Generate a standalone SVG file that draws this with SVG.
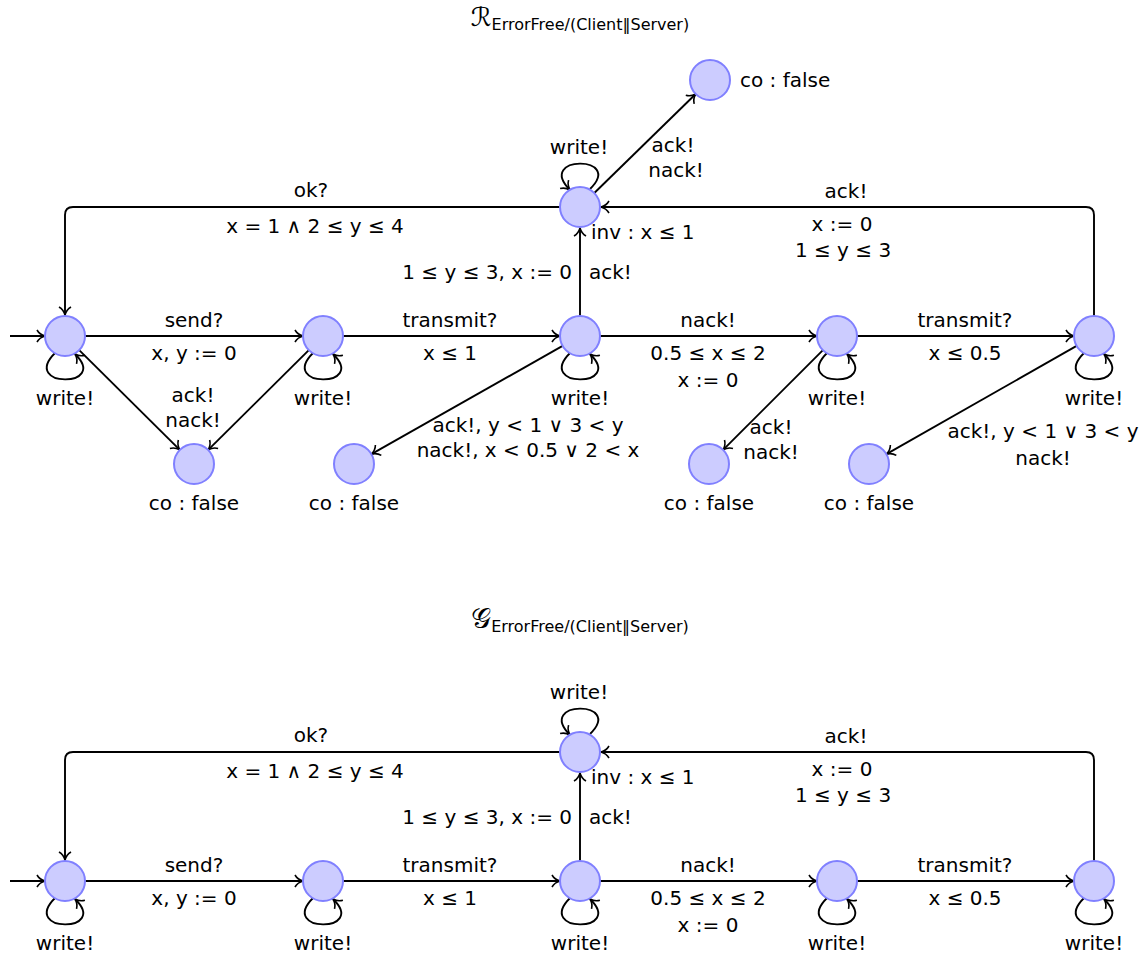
<svg xmlns="http://www.w3.org/2000/svg" width="1145" height="954" viewBox="0 0 1145 954">
<defs>
<style>
.n{fill:#ccccff;stroke:#8080ff;stroke-width:2}
.e{fill:none;stroke:#000;stroke-width:1.9;marker-end:url(#ar)}
.t{font-family:"DejaVu Sans",sans-serif;font-size:20px;fill:#000}
.m{text-anchor:middle}
.en{text-anchor:end}
.ti{font-family:"DejaVu Sans",sans-serif;fill:#000;text-anchor:middle}
</style>
<marker id="ar" markerWidth="16" markerHeight="16" refX="0" refY="0" viewBox="-10 -8 12 16" orient="auto" markerUnits="userSpaceOnUse">
<path d="M-8,-6 C-6,-2.5 -2.5,-0.7 0,0 C-2.5,0.7 -6,2.5 -8,6" fill="none" stroke="#000" stroke-width="1.6"/>
</marker>
</defs>
<rect width="1145" height="954" fill="#fff"/>

<!-- ===== Top automaton ===== -->
<text class="ti" x="580" y="26"><tspan font-size="26" font-family="DejaVu Sans, serif">ℛ</tspan><tspan font-size="16" dy="4">ErrorFree/(Client‖Server)</tspan></text>

<g id="top-edges">
<path class="e" d="M10,336 L45,336"/>
<path class="e" d="M85,336 L303,336"/>
<path class="e" d="M343,336 L560,336"/>
<path class="e" d="M600,336 L817,336"/>
<path class="e" d="M857,336 L1074,336"/>
<path class="e" d="M580,316 L580,228"/>
<path class="e" d="M1094,316 L1094,215 Q1094,207 1086,207 L601,207"/>
<path class="e" d="M560,207 L73,207 Q65,207 65,215 L65,315"/>
<path class="e" d="M594.3,193 L695.7,94"/>
<path class="e" d="M79.2,350.1 L179.8,449.9"/>
<path class="e" d="M308.8,350.1 L208.2,449.9"/>
<path class="e" d="M562.6,345.9 L371.4,454.1"/>
<path class="e" d="M822.9,350.1 L723.1,449.9"/>
<path class="e" d="M1076.6,345.9 L886.4,454.1"/>
<!-- self loops -->
<path class="e" d="M590,189 C625,155 535,155 570,190"/>
<path class="e" d="M55,353 C20,388 110,388 75,354"/>
<path class="e" d="M313,353 C278,388 368,388 333,354"/>
<path class="e" d="M570,353 C535,388 625,388 590,354"/>
<path class="e" d="M827,353 C792,388 882,388 847,354"/>
<path class="e" d="M1084,353 C1049,388 1139,388 1104,354"/>
</g>

<g id="top-labels">
<text class="t m" x="311" y="197">ok?</text>
<text class="t m" x="315" y="233">x = 1 ∧ 2 ≤ y ≤ 4</text>
<text class="t m" x="846" y="198">ack!</text>
<text class="t m" x="842" y="231">x := 0</text>
<text class="t m" x="843" y="257">1 ≤ y ≤ 3</text>
<text class="t m" x="579" y="154">write!</text>
<text class="t m" x="673" y="152">ack!</text>
<text class="t m" x="676" y="177">nack!</text>
<text class="t en" x="572" y="279">1 ≤ y ≤ 3, x := 0</text>
<text class="t" x="589" y="279">ack!</text>
<text class="t m" x="194" y="327">send?</text>
<text class="t m" x="194" y="360">x, y := 0</text>
<text class="t m" x="450" y="327">transmit?</text>
<text class="t m" x="450" y="360">x ≤ 1</text>
<text class="t m" x="708" y="327">nack!</text>
<text class="t m" x="708" y="360">0.5 ≤ x ≤ 2</text>
<text class="t m" x="708" y="387">x := 0</text>
<text class="t m" x="965" y="327">transmit?</text>
<text class="t m" x="965" y="360">x ≤ 0.5</text>
<text class="t m" x="65" y="405">write!</text>
<text class="t m" x="323" y="405">write!</text>
<text class="t m" x="580" y="405">write!</text>
<text class="t m" x="837" y="405">write!</text>
<text class="t m" x="1094" y="405">write!</text>
<text class="t m" x="193" y="402">ack!</text>
<text class="t m" x="193" y="427">nack!</text>
<text class="t m" x="528" y="432">ack!, y &lt; 1 ∨ 3 &lt; y</text>
<text class="t m" x="528" y="457">nack!, x &lt; 0.5 ∨ 2 &lt; x</text>
<text class="t m" x="771" y="434">ack!</text>
<text class="t m" x="771" y="459">nack!</text>
<text class="t m" x="1043" y="438">ack!, y &lt; 1 ∨ 3 &lt; y</text>
<text class="t m" x="1043" y="465">nack!</text>
</g>

<g id="t-A"><circle class="n" cx="65" cy="336" r="20"/></g>
<g id="t-B"><circle class="n" cx="323" cy="336" r="20"/></g>
<g id="t-C"><circle class="n" cx="580" cy="336" r="20"/></g>
<g id="t-D"><circle class="n" cx="837" cy="336" r="20"/></g>
<g id="t-E"><circle class="n" cx="1094" cy="336" r="20"/></g>
<g id="t-T"><circle class="n" cx="580" cy="207" r="20"/><text class="t" x="591" y="239">inv : x ≤ 1</text></g>
<g id="t-co0"><circle class="n" cx="710" cy="80" r="20"/><text class="t" x="740" y="87">co : false</text></g>
<g id="t-co1"><circle class="n" cx="194" cy="464" r="20"/><text class="t m" x="194" y="510">co : false</text></g>
<g id="t-co2"><circle class="n" cx="354" cy="464" r="20"/><text class="t m" x="354" y="510">co : false</text></g>
<g id="t-co3"><circle class="n" cx="709" cy="464" r="20"/><text class="t m" x="709" y="510">co : false</text></g>
<g id="t-co4"><circle class="n" cx="869" cy="464" r="20"/><text class="t m" x="869" y="510">co : false</text></g>

<!-- ===== Bottom automaton ===== -->
<text class="ti" x="580" y="628"><tspan font-size="28" font-family="DejaVu Sans, serif">𝒢</tspan><tspan font-size="16" dy="4">ErrorFree/(Client‖Server)</tspan></text>

<g id="bottom-edges">
<path class="e" d="M10,881 L45,881"/>
<path class="e" d="M85,881 L303,881"/>
<path class="e" d="M343,881 L560,881"/>
<path class="e" d="M600,881 L817,881"/>
<path class="e" d="M857,881 L1074,881"/>
<path class="e" d="M580,861 L580,773"/>
<path class="e" d="M1094,861 L1094,760 Q1094,752 1086,752 L601,752"/>
<path class="e" d="M560,752 L73,752 Q65,752 65,760 L65,860"/>
<path class="e" d="M590,734 C625,700 535,700 570,735"/>
<path class="e" d="M55,898 C20,933 110,933 75,899"/>
<path class="e" d="M313,898 C278,933 368,933 333,899"/>
<path class="e" d="M570,898 C535,933 625,933 590,899"/>
<path class="e" d="M827,898 C792,933 882,933 847,899"/>
<path class="e" d="M1084,898 C1049,933 1139,933 1104,899"/>
</g>

<g id="bottom-labels">
<text class="t m" x="311" y="742">ok?</text>
<text class="t m" x="315" y="778">x = 1 ∧ 2 ≤ y ≤ 4</text>
<text class="t m" x="846" y="743">ack!</text>
<text class="t m" x="842" y="776">x := 0</text>
<text class="t m" x="843" y="802">1 ≤ y ≤ 3</text>
<text class="t m" x="579" y="699">write!</text>
<text class="t en" x="572" y="824">1 ≤ y ≤ 3, x := 0</text>
<text class="t" x="589" y="824">ack!</text>
<text class="t m" x="194" y="872">send?</text>
<text class="t m" x="194" y="905">x, y := 0</text>
<text class="t m" x="450" y="872">transmit?</text>
<text class="t m" x="450" y="905">x ≤ 1</text>
<text class="t m" x="708" y="872">nack!</text>
<text class="t m" x="708" y="905">0.5 ≤ x ≤ 2</text>
<text class="t m" x="708" y="932">x := 0</text>
<text class="t m" x="965" y="872">transmit?</text>
<text class="t m" x="965" y="905">x ≤ 0.5</text>
<text class="t m" x="65" y="950">write!</text>
<text class="t m" x="323" y="950">write!</text>
<text class="t m" x="580" y="950">write!</text>
<text class="t m" x="837" y="950">write!</text>
<text class="t m" x="1094" y="950">write!</text>
</g>

<g id="b-A"><circle class="n" cx="65" cy="881" r="20"/></g>
<g id="b-B"><circle class="n" cx="323" cy="881" r="20"/></g>
<g id="b-C"><circle class="n" cx="580" cy="881" r="20"/></g>
<g id="b-D"><circle class="n" cx="837" cy="881" r="20"/></g>
<g id="b-E"><circle class="n" cx="1094" cy="881" r="20"/></g>
<g id="b-T"><circle class="n" cx="580" cy="752" r="20"/><text class="t" x="591" y="784">inv : x ≤ 1</text></g>
</svg>
